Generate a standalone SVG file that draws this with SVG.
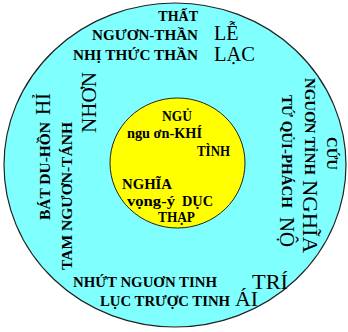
<svg xmlns="http://www.w3.org/2000/svg" width="348" height="332" viewBox="0 0 348 332">
<style>
.b{font-family:"Liberation Serif",serif;font-weight:bold;font-size:14px;fill:#000}
.r{font-family:"Liberation Serif",serif;font-size:20px;fill:#000}
</style>
<rect width="348" height="332" fill="#fff"/>
<g id="outer">
<ellipse cx="175" cy="165" rx="171" ry="162" fill="#80FFFF" stroke="#222" stroke-width="1.2"/>
</g>
<g id="inner">
<ellipse cx="177.5" cy="163" rx="67.5" ry="65" fill="#FFFF00" stroke="#222" stroke-width="1"/>
</g>
<g id="top">
<text class="b" x="198" y="21" text-anchor="end">THẤT</text>
<text class="b" x="92" y="40" textLength="106" lengthAdjust="spacingAndGlyphs">NGƯƠN-THẦN</text>
<text class="b" x="73" y="60" textLength="125" lengthAdjust="spacingAndGlyphs">NHỊ  THỨC THẦN</text>
<text class="r" x="214" y="40" font-size="19">LỄ</text>
<text class="r" x="214" y="61" textLength="41" lengthAdjust="spacingAndGlyphs">LẠC</text>
</g>
<g id="left">
<text class="r" transform="translate(96,133) rotate(-90)" textLength="61" lengthAdjust="spacingAndGlyphs">NHƠN</text>
<text class="b" transform="translate(50,220) rotate(-90)" textLength="98" lengthAdjust="spacingAndGlyphs">BÁT DU-HỒN</text>
<text class="r" transform="translate(50,115) rotate(-90)" textLength="22" lengthAdjust="spacingAndGlyphs">HỈ</text>
<text class="b" transform="translate(72,270) rotate(-90)" textLength="148" lengthAdjust="spacingAndGlyphs">TAM NGƯƠN-TÁNH</text>
</g>
<g id="right">
<text class="b" transform="translate(305,78) rotate(90)" textLength="97" lengthAdjust="spacingAndGlyphs">NGUƠN TỈNH</text>
<text class="r" transform="translate(303,180) rotate(90)" textLength="73" lengthAdjust="spacingAndGlyphs">NGHĨA</text>
<text class="b" transform="translate(282,95) rotate(90)" textLength="113" lengthAdjust="spacingAndGlyphs">TỨ QỦI-PHÁCH</text>
<text class="r" transform="translate(280,217) rotate(90)" textLength="30" lengthAdjust="spacingAndGlyphs">NỘ</text>
<text class="b" transform="translate(327,137) rotate(90)" textLength="33" lengthAdjust="spacingAndGlyphs">CỨU</text>
</g>
<g id="bottom">
<text class="b" x="73" y="287" textLength="144" lengthAdjust="spacingAndGlyphs">NHỨT NGUƠN TINH</text>
<text class="r" x="252" y="289" font-size="22" textLength="36" lengthAdjust="spacingAndGlyphs">TRÍ</text>
<text class="b" x="100" y="306" textLength="130" lengthAdjust="spacingAndGlyphs">LỤC TRƯỢC TINH</text>
<text class="r" x="235" y="306" font-size="21" textLength="23" lengthAdjust="spacingAndGlyphs">ÁI</text>
</g>
<g id="center">
<text class="b" x="162" y="121" textLength="30" lengthAdjust="spacingAndGlyphs">NGỦ</text>
<text class="b" x="127" y="138" textLength="75" lengthAdjust="spacingAndGlyphs">ngu ơn-KHÍ</text>
<text class="b" x="197" y="156" textLength="33" lengthAdjust="spacingAndGlyphs">TÌNH</text>
<text class="b" x="122" y="189" font-size="15" textLength="50" lengthAdjust="spacingAndGlyphs">NGHĨA</text>
<text class="b" x="127" y="206" textLength="48" lengthAdjust="spacingAndGlyphs">vọng-ý</text>
<text class="b" x="182" y="206" font-size="15" textLength="31" lengthAdjust="spacingAndGlyphs">DỤC</text>
<text class="b" x="158" y="222" textLength="37" lengthAdjust="spacingAndGlyphs">THẠP</text>
</g>
</svg>
